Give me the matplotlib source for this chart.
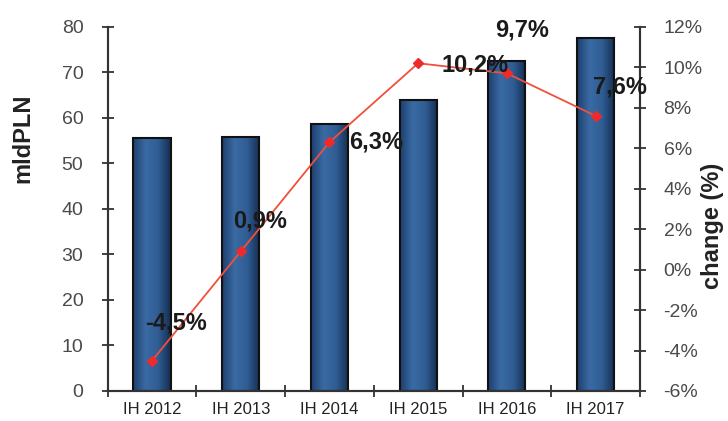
import matplotlib
matplotlib.use("Agg")
import matplotlib.pyplot as plt
import numpy as np
from matplotlib.colors import LinearSegmentedColormap

plt.rcParams['font.family'] = ['Liberation Sans', 'DejaVu Sans']

categories = ["IH 2012", "IH 2013", "IH 2014", "IH 2015", "IH 2016", "IH 2017"]
values_mld = [55.5, 55.8, 58.6, 64.0, 72.6, 77.5]
change_pct = [-4.5, 0.9, 6.3, 10.2, 9.7, 7.6]
change_labels = ["-4,5%", "0,9%", "6,3%", "10,2%", "9,7%", "7,6%"]
# label offsets in pixels (dx, dy) from each marker to the left/centre of its label
label_offsets = [(-7, 38), (-8, 30), (20, 0), (23, -2), (-12, 43), (-3, 29)]

fig = plt.figure(figsize=(7.28, 4.21), dpi=100)
ax = fig.add_axes([0.148, 0.0713, 0.731, 0.865])
ax2 = ax.twinx()

x = np.arange(len(categories))
bars = ax.bar(x, values_mld, width=0.42, color="#2b5a8e", edgecolor="#111111", linewidth=1.5, zorder=2)

# horizontal gradient fill clipped to each bar
cmap = LinearSegmentedColormap.from_list("g", ["#1d3f6e", "#3a6aa3", "#2f5d93", "#152c50"])
grad = np.linspace(0, 1, 256).reshape(1, -1)
for b in bars:
    bx, by = b.get_x(), b.get_y()
    im = ax.imshow(grad, extent=[bx, bx + b.get_width(), by, by + b.get_height()],
                   aspect="auto", cmap=cmap, zorder=2.1, interpolation="bicubic")
    im.set_clip_path(b)
    b.set_facecolor("none")
    b.set_zorder(2.2)

ax.set_xlim(-0.5, len(categories) - 0.5)
ax.set_ylim(0, 80)
ax.set_yticks(np.arange(0, 81, 10))
ax.set_xticks(x)
ax.set_xticklabels(categories, fontsize=12, color="#222222")
ax.set_xticks(np.arange(-0.5, len(categories), 1), minor=True)
ax.tick_params(axis="x", which="major", length=0, pad=8)
ax.tick_params(axis="x", which="minor", length=9, direction="inout", width=1.3, color="#333333")
ax.tick_params(axis="y", length=9, direction="inout", width=1.3, color="#333333",
               labelsize=14, labelcolor="#4a4a4a", pad=13)

ax2.set_ylim(-6, 12)
ax2.set_yticks(np.arange(-6, 13, 2))
ax2.set_yticklabels([f"{v}%" for v in range(-6, 13, 2)])
ax2.tick_params(axis="y", length=9, direction="inout", width=1.3, color="#333333",
                labelsize=14, labelcolor="#4a4a4a", pad=12.5)

fig.text(23 / 728, 1 - 138 / 421, "mldPLN", rotation=90, ha="center", va="center",
         fontsize=17, fontweight="bold", color="#222222")
fig.text(713 / 728, 1 - 226 / 421, "change (%)", rotation=90, ha="center", va="center",
         fontsize=17, fontweight="bold", color="#222222")

ax2.plot(x, change_pct, color="#f0503c", linewidth=1.3, marker="D", markersize=5,
         markerfacecolor="#f02a2a", markeredgecolor="#f02a2a", zorder=5)
for xi, yi, lab, off in zip(x, change_pct, change_labels, label_offsets):
    ax2.annotate(lab, (xi, yi), xytext=off, textcoords="offset pixels",
                 fontsize=17, fontweight="bold", color="#1a1a1a", va="center", ha="left", zorder=6)

for a in (ax, ax2):
    a.spines["top"].set_visible(False)
    for s in ("left", "right", "bottom"):
        a.spines[s].set_color("#333333")
        a.spines[s].set_linewidth(1.5)

fig.savefig("out.png", dpi=100)
